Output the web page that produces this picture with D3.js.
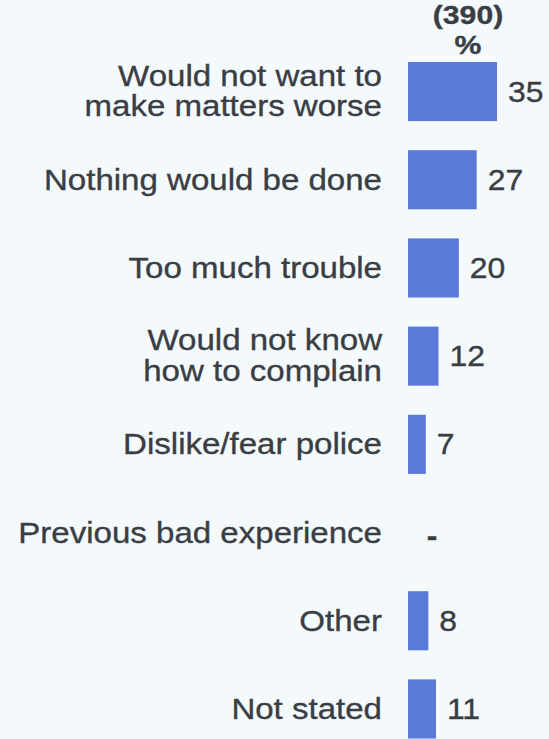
<!DOCTYPE html>
<html>
<head>
<meta charset="utf-8">
<script src="https://cdn.jsdelivr.net/npm/d3@7"></script>
<style>
  html, body { margin: 0; padding: 0; background: #f4fafc; }
  svg { display: block; }
  text { font-family: "Liberation Sans", Arial, Helvetica, sans-serif; fill: #3a3e44; stroke: #3a3e44; stroke-width: 0.35px; }
</style>
</head>
<body>
<svg id="chart" width="549" height="739"></svg>
<script>
// Reasons for not reporting, percent of respondents (base 390)
const categories = [
  "Would not want to|make matters worse",
  "Nothing would be done",
  "Too much trouble",
  "Would not know|how to complain",
  "Dislike/fear police",
  "Previous bad experience",
  "Other",
  "Not stated"
];
const values = [35, 27, 20, 12, 7, null, 8, 11];
const baseLabel = "(390)";
const unitLabel = "%";

const svg = d3.select("#chart");
const W = 549, H = 739;
svg.append("rect").attr("width", W).attr("height", H).attr("fill", "#f4fafc");

const barColor = "#5a79d8";
const labelRight = 382;
const stretch = 1.14;

const x = d3.scaleLinear().domain([0, 35]).range([408, 497]);
const y = d3.scaleBand()
  .domain(categories)
  .range([62, 738.5])
  .paddingInner(0.33)
  .paddingOuter(0);

const rows = categories.map((c, i) => ({ cat: c, lines: c.split("|"), v: values[i] }));

// header: base size and unit
svg.append("text")
  .attr("transform", `translate(468,23.5) scale(1.16,1)`)
  .attr("text-anchor", "middle")
  .attr("font-size", 26).attr("font-weight", "bold")
  .text(baseLabel);
svg.append("text")
  .attr("transform", `translate(468,53.5) scale(1.16,1)`)
  .attr("text-anchor", "middle")
  .attr("font-size", 26).attr("font-weight", "bold")
  .text(unitLabel);

// bars
svg.append("g").selectAll("rect")
  .data(rows.filter(d => d.v != null))
  .join("rect")
  .attr("x", x(0))
  .attr("y", d => y(d.cat))
  .attr("width", d => x(d.v) - x(0))
  .attr("height", y.bandwidth())
  .attr("fill", barColor);

// category labels
const lab = svg.append("g").selectAll("text")
  .data(rows)
  .join("text")
  .attr("text-anchor", "end")
  .attr("font-size", 29)
  .attr("transform", d => {
    const c = y(d.cat) + y.bandwidth() / 2;
    return `translate(${labelRight},${c}) scale(${stretch},1)`;
  });
lab.selectAll("tspan")
  .data(d => d.lines.map((t, i) => ({ t, i, n: d.lines.length })))
  .join("tspan")
  .attr("x", 0)
  .attr("y", d => d.n === 1 ? 10 : (d.i === 0 ? -6 : 24.5))
  .text(d => d.t);

// value labels (a dash where no value was recorded)
svg.append("g").selectAll("text")
  .data(rows)
  .join("text")
  .attr("text-anchor", d => d.v == null ? "middle" : "start")
  .attr("font-size", 29)
  .attr("font-weight", d => d.v == null ? "bold" : "normal")
  .attr("transform", d => {
    const c = y(d.cat) + y.bandwidth() / 2;
    const px = d.v == null ? 432 : x(d.v) + 11;
    return `translate(${px},${c + (d.v == null ? 13 : 10)}) scale(1.1,1)`;
  })
  .text(d => d.v == null ? "-" : d.v);
</script>
</body>
</html>
